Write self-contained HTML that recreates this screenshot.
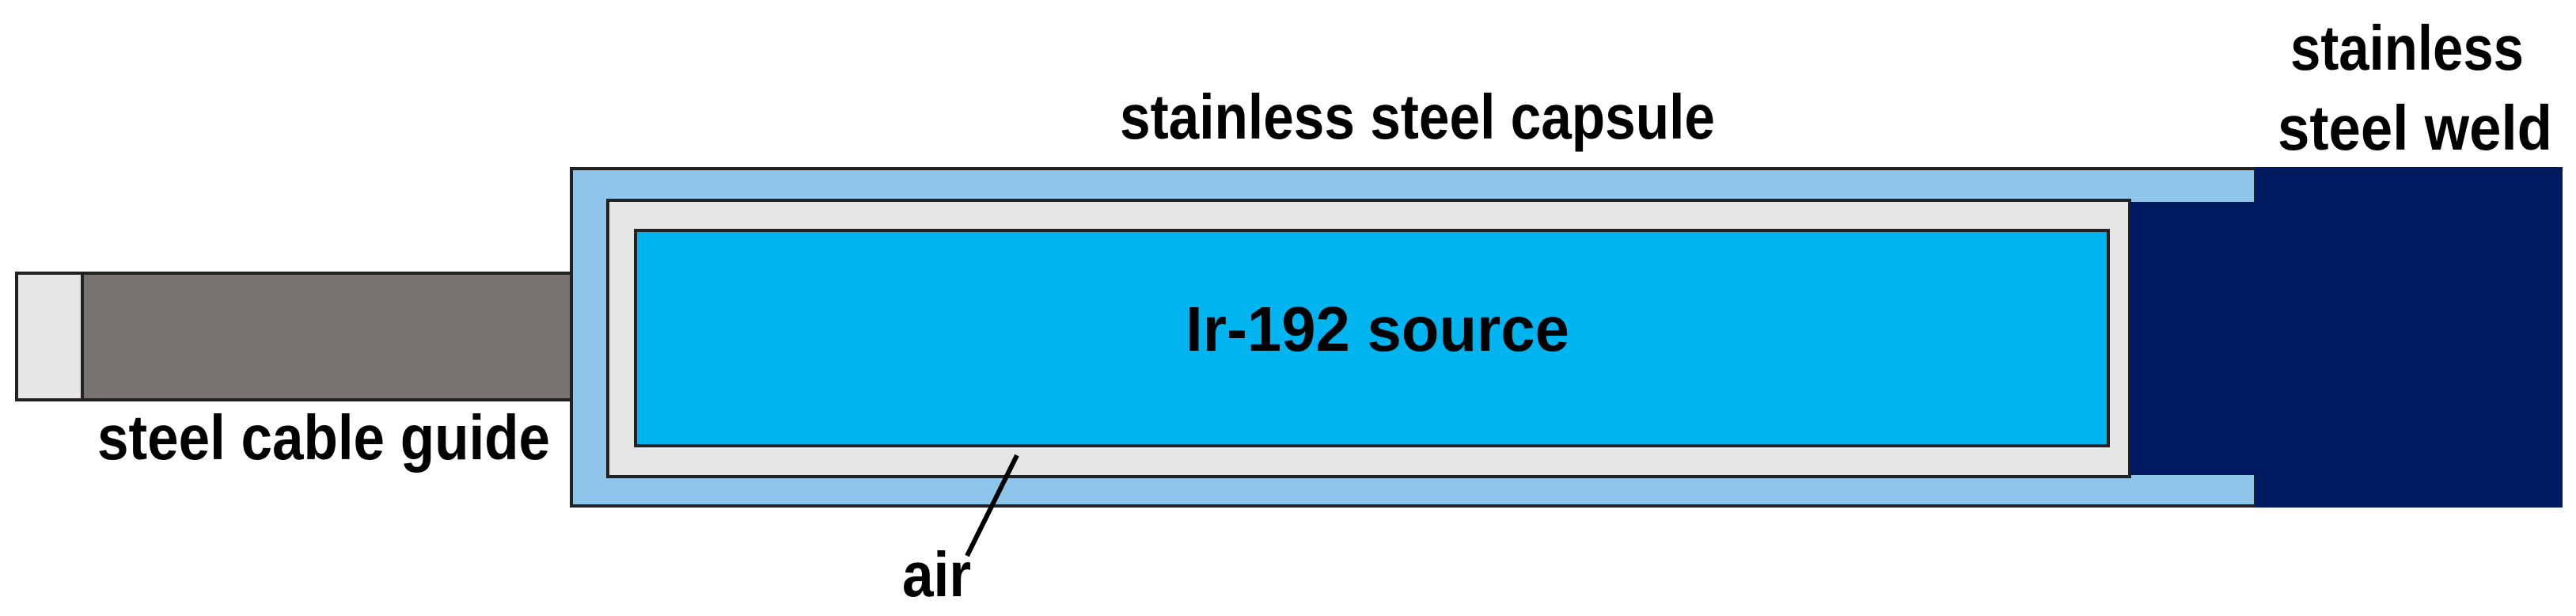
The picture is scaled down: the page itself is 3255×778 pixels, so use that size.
<!DOCTYPE html>
<html><head><meta charset="utf-8"><style>html,body{margin:0;padding:0;background:#fff}svg{display:block}</style></head>
<body>
<svg width="3255" height="778" viewBox="0 0 3255 778" xmlns="http://www.w3.org/2000/svg">
<g stroke="#222" stroke-width="4">
<rect x="21" y="345" width="701" height="160" fill="#787370"/>
<rect x="21" y="345" width="83" height="160" fill="#E6E6E6"/>
<rect x="722" y="213" width="2128" height="426" fill="#8FC5EA"/>
<rect x="768" y="253" width="1923" height="349" fill="#E6E6E6"/>
<rect x="803" y="291" width="1861" height="272" fill="#00B4F0"/>
</g>
<rect x="2850" y="211" width="388" height="430" fill="#001A60"/>
<rect x="2691" y="255" width="160" height="345" fill="#001A60"/>
<line x1="1285" y1="575" x2="1222" y2="702" stroke="#000" stroke-width="6"/>
<g font-family="Liberation Sans, sans-serif" font-weight="bold" font-size="80" fill="#000">
<text x="1415" y="175" textLength="752" lengthAdjust="spacingAndGlyphs">stainless steel capsule</text>
<text x="1498" y="443" textLength="485" lengthAdjust="spacingAndGlyphs">Ir-192 source</text>
<text x="123" y="580" textLength="572" lengthAdjust="spacingAndGlyphs">steel cable guide</text>
<text x="2894" y="88" textLength="295" lengthAdjust="spacingAndGlyphs">stainless</text>
<text x="2878" y="189" textLength="347" lengthAdjust="spacingAndGlyphs">steel weld</text>
<text x="1140" y="753" textLength="87" lengthAdjust="spacingAndGlyphs">air</text>
</g>
</svg>
</body></html>
